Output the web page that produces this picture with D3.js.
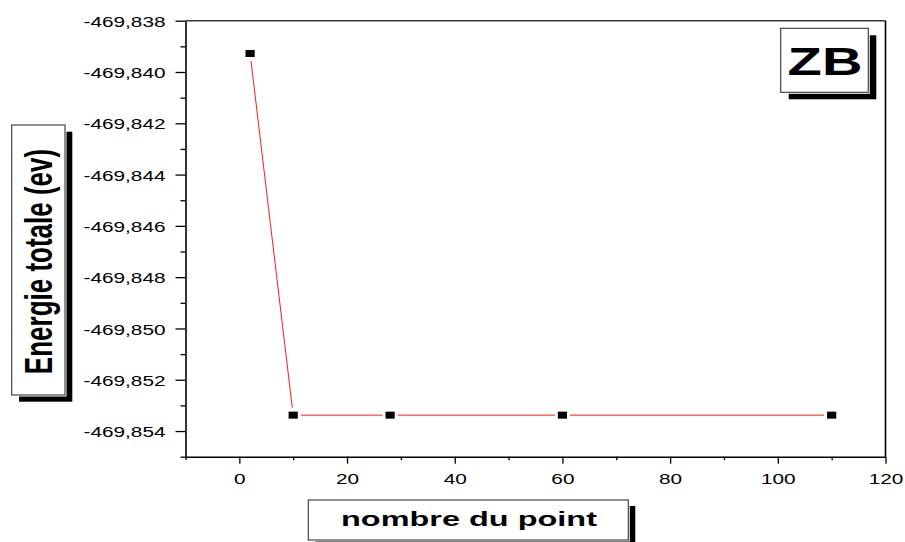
<!DOCTYPE html>
<html>
<head>
<meta charset="utf-8">
<script src="https://cdn.jsdelivr.net/npm/d3@7"></script>
<style>
  html, body { margin: 0; padding: 0; background: #fff; }
  svg { display: block; font-family: "Liberation Sans", Arial, sans-serif; }
</style>
</head>
<body>
<svg id="chart" width="905" height="542"></svg>
<script>
// Convergence of the total energy with the number of k-points (ZB phase)
const kPoints = [2, 10, 28, 60, 110];
const totalEnergy = [-469.83928, -469.85338, -469.85338, -469.85338, -469.85338];

const xMajorTicks = [0, 20, 40, 60, 80, 100, 120];
const xMinorTicks = [-10, 10, 30, 50, 70, 90, 110];
const yMajorTicks = [-469.854, -469.852, -469.850, -469.848, -469.846, -469.844, -469.842, -469.840, -469.838];
const yMinorTicks = [-469.855, -469.853, -469.851, -469.849, -469.847, -469.845, -469.843, -469.841, -469.839];
const yTickLabels = ["-469,854", "-469,852", "-469,850", "-469,848", "-469,846", "-469,844", "-469,842", "-469,840", "-469,838"];

const xTitle = "nombre du point";
const yTitle = "Energie totale (ev)";
const phaseTag = "ZB";

const svg = d3.select("#chart");
const plot = { left: 185.5, right: 885.5, top: 20.7, bottom: 456.7 };

const x = d3.scaleLinear().domain([-10, 120]).range([plot.left, plot.right]);
const y = d3.scaleLinear().domain([-469.855, -469.838]).range([plot.bottom, plot.top]);

// frame: top and right edges
svg.append("line")
  .attr("x1", plot.left).attr("x2", plot.right)
  .attr("y1", plot.top).attr("y2", plot.top)
  .attr("stroke", "#3a3a3a").attr("stroke-width", 1.6);
svg.append("line")
  .attr("x1", plot.right).attr("x2", plot.right)
  .attr("y1", plot.top).attr("y2", plot.bottom)
  .attr("stroke", "#000").attr("stroke-width", 1.6);

// left axis: minor ticks, then labelled major ticks
const yMinor = svg.append("g")
  .attr("transform", `translate(${plot.left},0)`)
  .call(d3.axisLeft(y).tickValues(yMinorTicks).tickSize(5).tickSizeOuter(0).tickFormat(""));
yMinor.select(".domain").remove();

const yAxis = svg.append("g")
  .attr("transform", `translate(${plot.left},0)`)
  .call(d3.axisLeft(y).tickValues(yMajorTicks).tickSize(10).tickSizeOuter(0)
    .tickFormat((d, i) => yTickLabels[i]));
yAxis.select(".domain").attr("stroke-width", 1.6);
yAxis.selectAll(".tick text")
  .attr("x", null).attr("dy", "0.36em")
  .attr("transform", "translate(-20,0) scale(1.35,1)")
  .attr("font-size", 15.4)
  .attr("fill", "#000");

// bottom axis
const xMinor = svg.append("g")
  .attr("transform", `translate(0,${plot.bottom})`)
  .call(d3.axisBottom(x).tickValues(xMinorTicks).tickSize(3.5).tickSizeOuter(0).tickFormat(""));
xMinor.select(".domain").remove();

const xAxis = svg.append("g")
  .attr("transform", `translate(0,${plot.bottom})`)
  .call(d3.axisBottom(x).tickValues(xMajorTicks).tickSize(7).tickSizeOuter(0).tickFormat(d3.format("d")));
xAxis.select(".domain").attr("stroke-width", 1.6);
xAxis.selectAll(".tick text")
  .attr("y", null).attr("dy", null)
  .attr("transform", "translate(0,27) scale(1.35,1)")
  .attr("font-size", 15.4)
  .attr("fill", "#000");

svg.selectAll(".tick line").attr("stroke", "#000").attr("stroke-width", 1.3);

// red connecting line, broken around each marker
const pts = kPoints.map((k, i) => [x(k), y(totalEnergy[i])]);
const gap = 7.5;
const segs = d3.pairs(pts).map(([a, b]) => {
  const dx = b[0] - a[0], dy = b[1] - a[1];
  const len = Math.hypot(dx, dy);
  const ux = dx / len, uy = dy / len;
  return [a[0] + ux * gap, a[1] + uy * gap, b[0] - ux * gap, b[1] - uy * gap];
});
svg.append("g").selectAll("line").data(segs).join("line")
  .attr("x1", d => d[0]).attr("y1", d => d[1])
  .attr("x2", d => d[2]).attr("y2", d => d[3])
  .attr("stroke", "#ff1a1a").attr("stroke-width", 1);

// square markers
const mw = 9.2, mh = 7;
svg.append("g").selectAll("rect").data(kPoints).join("rect")
  .attr("x", d => x(d) - mw / 2)
  .attr("y", (d, i) => y(totalEnergy[i]) - mh / 2)
  .attr("width", mw).attr("height", mh)
  .attr("fill", "#000");

// boxed label with drop shadow
function shadowBox(x0, y0, w, h, sx, sy) {
  const g = svg.append("g");
  g.append("rect").attr("x", x0 + sx).attr("y", y0 + sy).attr("width", w).attr("height", h).attr("fill", "#000");
  g.append("rect").attr("x", x0 - 1.5).attr("y", y0 - 1.5).attr("width", w + 3).attr("height", h + 3).attr("fill", "#fff");
  g.append("rect").attr("x", x0).attr("y", y0).attr("width", w).attr("height", h)
    .attr("fill", "#fff").attr("stroke", "#333").attr("stroke-width", 1.1);
  return g;
}

// y title
shadowBox(11.7, 125, 53.3, 270, 7.3, 6.7)
  .append("text")
  .attr("transform", "translate(51.7,261.5) scale(1.5,1) rotate(-90)")
  .attr("text-anchor", "middle")
  .attr("font-weight", "bold").attr("font-size", 26)
  .attr("fill", "#000")
  .text(yTitle);

// x title
shadowBox(308.3, 500, 320, 40, 7, 6)
  .append("text")
  .attr("transform", "translate(469,526) scale(1.56,1)")
  .attr("text-anchor", "middle")
  .attr("font-weight", "bold").attr("font-size", 20.8)
  .attr("fill", "#000")
  .text(xTitle);

// phase tag
shadowBox(780.7, 28.3, 87.6, 64, 8, 7)
  .append("text")
  .attr("transform", "translate(825,75) scale(1.42,1)")
  .attr("text-anchor", "middle")
  .attr("font-weight", "bold").attr("font-size", 39.5)
  .attr("fill", "#000")
  .text(phaseTag);
</script>
</body>
</html>
